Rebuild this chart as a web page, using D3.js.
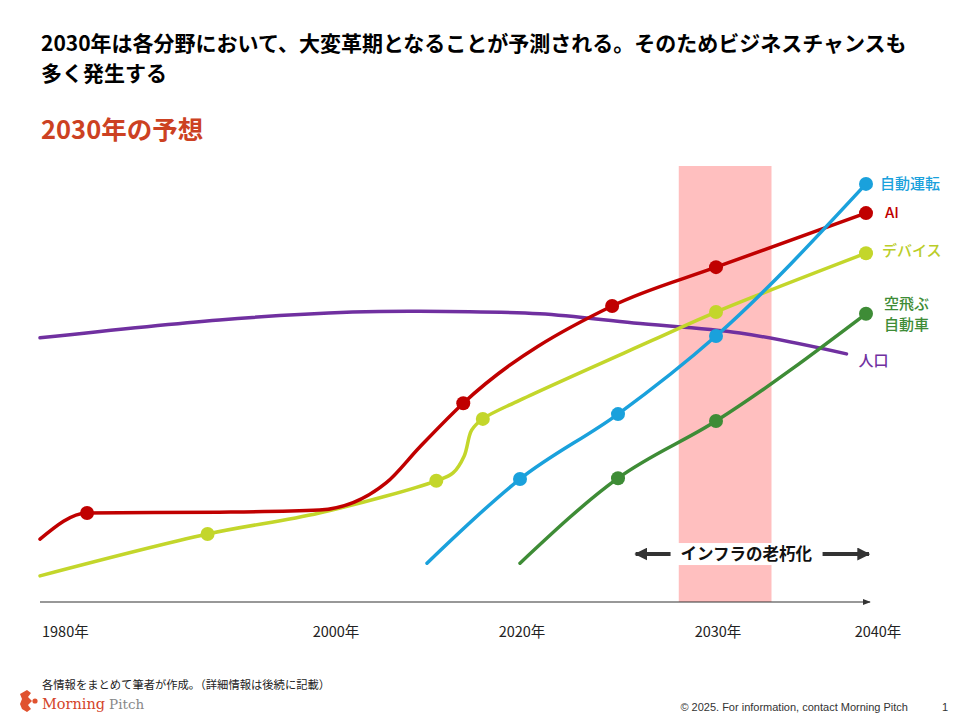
<!DOCTYPE html>
<html>
<head>
<meta charset="utf-8">
<script src="https://cdn.jsdelivr.net/npm/d3@7"></script>
<style>
  body { margin: 0; background: #fff; }
  svg text { font-family: "Noto Sans CJK JP", "Noto Sans", sans-serif; }
</style>
</head>
<body>
<div id="container"></div>
<script>
/* CONSTANTS AND GLOBALS */
const width = 960,
  height = 720;

// x axis is not even in the original: tick years and where they sit
const tickYears = [1980, 2000, 2020, 2030, 2040];
const tickLabels = ["1980年", "2000年", "2020年", "2030年", "2040年"];

// series: [year, value], value on a 0-100 index, dot = marker drawn
const aiData = [
  [1980, 14.4, 0], [1983.2, 20.4, 1], [1992.2, 20.6, 0], [1999.0, 21.1, 0],
  [2005.6, 27.3, 0], [2009.2, 35.5, 0], [2013.9, 45.6, 1],
  [2024.7, 67.9, 1], [2030, 76.8, 1], [2040, 89.2, 1]
];
const deviceData = [
  [1980, 6.0, 0], [1991.4, 15.6, 1], [1999.0, 20.4, 0], [2011.0, 27.8, 1],
  [2012.8, 29.6, 0], [2014.0, 33.5, 0], [2014.8, 39.4, 0],
  [2016.0, 42.0, 1], [2020.0, 46.3, 0], [2026.8, 60.1, 0], [2030, 66.5, 1],
  [2040, 80.0, 1]
];
const autoDriveData = [
  [2010, 8.9, 0], [2020, 28.2, 1], [2025, 43.1, 1], [2030, 61.0, 1], [2040, 95.9, 1]
];
const flyingCarData = [
  [2020, 8.9, 0], [2025, 28.4, 1], [2030, 41.5, 1], [2040, 66.1, 1]
];
const populationData = [
  [1980, 60.6, 0], [1992.2, 64.7, 0], [2002.0, 66.5, 0], [2009.2, 66.7, 0],
  [2021.0, 66.1, 0], [2025.8, 64.0, 0], [2031.6, 61.7, 0], [2038.7, 56.9, 0]
];

const seriesNames = ["人口", "デバイス", "AI", "空飛ぶ\n自動車", "自動運転"];
const seriesColors = ["#7030A0", "#C3D62B", "#C00000", "#3E8C36", "#1AA1DC"];
const seriesList = [populationData, deviceData, aiData, flyingCarData, autoDriveData];
const labelOffsets = [[12, 7], [16, -3], [19, 0], [18, -10], [14, 0]];

const crisisBand = [2028.1, 2033.7];   // pink highlighted period
const infraSpan = [2025.9, 2040.2];    // "インフラの老朽化" arrow
const infraLevel = 11;
const infraLabel = "インフラの老朽化";

const svg = d3.select("#container")
  .append("svg")
  .attr("width", width)
  .attr("height", height);

// SCALES
const xScale = d3.scaleLinear()
  .domain(tickYears)
  .range([40, 334, 520, 716, 866]);

const yScale = d3.scaleLinear()
  .domain([0, 100])
  .range([602, 166]);

// HEADINGS
svg.append("text")
  .attr("x", 41).attr("y", 51)
  .attr("font-size", 21).attr("font-weight", "bold").attr("fill", "#000")
  .text("2030年は各分野において、大変革期となることが予測される。そのためビジネスチャンスも");
svg.append("text")
  .attr("x", 41).attr("y", 81)
  .attr("font-size", 21).attr("font-weight", "bold").attr("fill", "#000")
  .text("多く発生する");
svg.append("text")
  .attr("x", 41).attr("y", 139)
  .attr("font-size", 25.5).attr("font-weight", "bold").attr("fill", "#CC4122")
  .text("2030年の予想");

// ARROW MARKERS
const defs = svg.append("defs");
defs.append("marker")
  .attr("id", "axisHead")
  .attr("viewBox", "0 0 10 10").attr("refX", 9).attr("refY", 5)
  .attr("markerWidth", 8).attr("markerHeight", 8)
  .attr("markerUnits", "userSpaceOnUse")
  .attr("orient", "auto")
  .append("path").attr("d", "M0,1 L10,5 L0,9 Z").attr("fill", "#333");
defs.append("marker")
  .attr("id", "spanHead")
  .attr("viewBox", "0 0 10 10").attr("refX", 9).attr("refY", 5)
  .attr("markerWidth", 13).attr("markerHeight", 13)
  .attr("markerUnits", "userSpaceOnUse")
  .attr("orient", "auto-start-reverse")
  .append("path").attr("d", "M0,0 L10,5 L0,10 Z").attr("fill", "#333");

// PINK BAND
svg.append("rect")
  .attr("x", xScale(crisisBand[0]))
  .attr("y", yScale(100))
  .attr("width", xScale(crisisBand[1]) - xScale(crisisBand[0]))
  .attr("height", yScale(0) - yScale(100))
  .attr("fill", "#FFBFBF");

// X AXIS
svg.append("line")
  .attr("x1", xScale(1980)).attr("x2", xScale(2040) + 4)
  .attr("y1", yScale(0)).attr("y2", yScale(0))
  .attr("stroke", "#333").attr("stroke-width", 1.2)
  .attr("marker-end", "url(#axisHead)");

svg.selectAll("text.tick")
  .data(tickYears)
  .join("text")
  .attr("class", "tick")
  .attr("x", (d, i) => i === 0 ? xScale(d) + 2 : xScale(d) + (i === 4 ? 12 : 2))
  .attr("y", yScale(0) + 35)
  .attr("text-anchor", (d, i) => i === 0 ? "start" : "middle")
  .attr("font-size", 14.5).attr("fill", "#222")
  .text((d, i) => tickLabels[i]);

// INFRA ARROW + LABEL
const infraG = svg.append("g");
const infraText = infraG.append("text")
  .attr("x", (xScale(infraSpan[0]) + xScale(infraSpan[1])) / 2 - 6)
  .attr("y", yScale(infraLevel))
  .attr("dy", "0.36em")
  .attr("text-anchor", "middle")
  .attr("font-size", 16.5).attr("font-weight", "bold").attr("fill", "#111")
  .text(infraLabel);
const tb = infraText.node().getBBox();
infraG.insert("rect", "text")
  .attr("x", tb.x - 10).attr("y", yScale(infraLevel) - 11)
  .attr("width", tb.width + 20).attr("height", 22)
  .attr("fill", "#fff");
infraG.append("line")
  .attr("x1", tb.x - 10).attr("x2", xScale(infraSpan[0]))
  .attr("y1", yScale(infraLevel)).attr("y2", yScale(infraLevel))
  .attr("stroke", "#333").attr("stroke-width", 4)
  .attr("marker-end", "url(#spanHead)");
infraG.append("line")
  .attr("x1", tb.x + tb.width + 10).attr("x2", xScale(infraSpan[1]))
  .attr("y1", yScale(infraLevel)).attr("y2", yScale(infraLevel))
  .attr("stroke", "#333").attr("stroke-width", 4)
  .attr("marker-end", "url(#spanHead)");

// LINES
const lineGen = d3.line()
  .x(d => xScale(d[0]))
  .y(d => yScale(d[1]))
  .curve(d3.curveMonotoneX);

const lineGenFree = d3.line()
  .x(d => xScale(d[0]))
  .y(d => yScale(d[1]))
  .curve(d3.curveCatmullRom.alpha(0.5));

// population (rise and fall) and device (S-step) get the free curve
const freeCurve = [true, true, false, false, false];

svg.selectAll("path.series")
  .data(seriesList)
  .join("path")
  .attr("class", "series")
  .attr("d", (d, i) => freeCurve[i] ? lineGenFree(d) : lineGen(d))
  .attr("fill", "none")
  .attr("stroke", (d, i) => seriesColors[i])
  .attr("stroke-width", 3.5)
  .attr("stroke-linecap", "round");

// DOTS
seriesList.forEach((data, i) => {
  svg.selectAll("circle.s" + i)
    .data(data.filter(d => d[2]))
    .join("circle")
    .attr("class", "s" + i)
    .attr("cx", d => xScale(d[0]))
    .attr("cy", d => yScale(d[1]))
    .attr("r", 7)
    .attr("fill", seriesColors[i]);
});

// END LABELS
seriesList.forEach((data, i) => {
  const last = data[data.length - 1];
  const lines = seriesNames[i].split("\n");
  const t = svg.append("text")
    .attr("x", xScale(last[0]) + labelOffsets[i][0])
    .attr("y", yScale(last[1]) + labelOffsets[i][1])
    .attr("font-size", 15).attr("font-weight", 500)
    .attr("fill", seriesColors[i] === "#C3D62B" ? "#BACD28" : seriesColors[i]);
  lines.forEach((s, k) => {
    t.append("tspan")
      .attr("x", xScale(last[0]) + labelOffsets[i][0])
      .attr("dy", k === 0 ? "0.36em" : "1.4em")
      .text(s);
  });
});

// FOOTER
svg.append("text")
  .attr("x", 42).attr("y", 689)
  .attr("font-size", 11.3).attr("fill", "#222")
  .text("各情報をまとめて筆者が作成。（詳細情報は後続に記載）");

// logo mark: small gear-ish shape
const logo = svg.append("g").attr("fill", "#E0522F");
logo.append("path")
  .attr("d", "M27,690 L31,693 L28,697 L32,701 L28,705 L31,709 L27,712 L22,709 L20,704 L22,699 L20,694 Z");
logo.append("circle").attr("cx", 35).attr("cy", 701).attr("r", 2.6);

const brand = svg.append("text")
  .attr("x", 42).attr("y", 709)
  .attr("font-size", 14.5);
brand.append("tspan").attr("fill", "#D4452A").style("font-family", "'DejaVu Serif', serif").text("Morning");
brand.append("tspan").attr("fill", "#888").attr("dx", 4)
  .style("font-family", "'DejaVu Serif', serif").style("font-size", "13.5px").text("Pitch");

svg.append("text")
  .attr("x", 908).attr("y", 711)
  .attr("text-anchor", "end")
  .attr("font-size", 11).attr("fill", "#333")
  .style("font-family", "'Liberation Sans', sans-serif")
  .text("© 2025. For information, contact Morning Pitch");
svg.append("text")
  .attr("x", 945).attr("y", 711)
  .attr("text-anchor", "middle")
  .attr("font-size", 11).attr("fill", "#333")
  .style("font-family", "'Liberation Sans', sans-serif")
  .text("1");
</script>
</body>
</html>
